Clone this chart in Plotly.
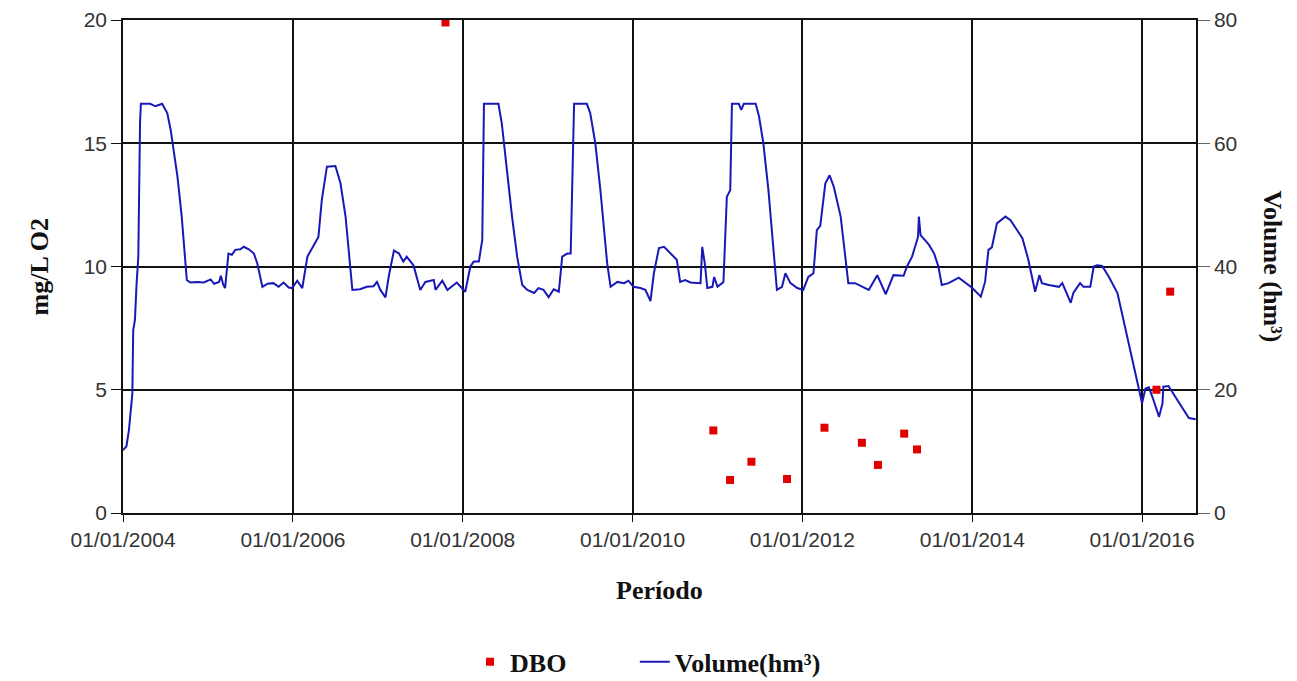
import datetime as dt
import plotly.graph_objects as go

# Reservoir volume (hm³), sampled along the record; time in decimal years
vol_t = [
    2004.00, 2004.04, 2004.07, 2004.11, 2004.12, 2004.14, 2004.16, 2004.18, 2004.20, 2004.21,
    2004.32, 2004.38, 2004.46, 2004.52, 2004.56, 2004.64, 2004.69, 2004.75, 2004.79, 2004.87,
    2004.95, 2005.03, 2005.07, 2005.13, 2005.15, 2005.18, 2005.20, 2005.24, 2005.28, 2005.32,
    2005.38, 2005.42, 2005.48, 2005.54, 2005.58, 2005.64, 2005.70, 2005.77, 2005.83, 2005.89,
    2005.95, 2005.99, 2006.05, 2006.11, 2006.17, 2006.24, 2006.30, 2006.34, 2006.40, 2006.50,
    2006.56, 2006.62, 2006.70, 2006.79, 2006.87, 2006.95, 2006.99, 2007.03, 2007.09, 2007.13,
    2007.19, 2007.25, 2007.30, 2007.34, 2007.42, 2007.50, 2007.56, 2007.66, 2007.68, 2007.76,
    2007.82, 2007.93, 2008.01, 2008.03, 2008.09, 2008.13, 2008.19, 2008.23, 2008.25, 2008.42,
    2008.46, 2008.50, 2008.58, 2008.64, 2008.70, 2008.76, 2008.84, 2008.89, 2008.95, 2009.01,
    2009.07, 2009.13, 2009.17, 2009.23, 2009.27, 2009.31, 2009.46, 2009.50, 2009.56, 2009.62,
    2009.70, 2009.74, 2009.82, 2009.90, 2009.95, 2010.01, 2010.09, 2010.15, 2010.21, 2010.25,
    2010.31, 2010.37, 2010.45, 2010.52, 2010.56, 2010.62, 2010.68, 2010.80, 2010.82, 2010.85,
    2010.88, 2010.94, 2010.96, 2011.00, 2011.07, 2011.11, 2011.15, 2011.17, 2011.25, 2011.28,
    2011.31, 2011.45, 2011.49, 2011.54, 2011.60, 2011.70, 2011.76, 2011.80, 2011.86, 2011.94,
    2012.01, 2012.07, 2012.13, 2012.17, 2012.21, 2012.27, 2012.32, 2012.37, 2012.45, 2012.54,
    2012.62, 2012.70, 2012.78, 2012.88, 2012.98, 2013.07, 2013.19, 2013.23, 2013.29, 2013.36,
    2013.37, 2013.39, 2013.49, 2013.55, 2013.60, 2013.64, 2013.72, 2013.84, 2013.92, 2014.00,
    2014.10, 2014.15, 2014.19, 2014.23, 2014.29, 2014.39, 2014.45, 2014.51, 2014.59, 2014.66,
    2014.74, 2014.79, 2014.82, 2014.90, 2015.02, 2015.06, 2015.16, 2015.19, 2015.27, 2015.31,
    2015.39, 2015.43, 2015.47, 2015.53, 2015.61, 2015.71, 2015.78, 2015.86, 2015.96, 2016.00,
    2016.04, 2016.08, 2016.12, 2016.20, 2016.24, 2016.25, 2016.31, 2016.39, 2016.47, 2016.55,
    2016.63,
]
vol_hm3 = [
    10.2, 10.8, 13.5, 19.4, 29.7, 31.3, 37.3, 41.6, 63.2, 66.4,
    66.4, 66.0, 66.4, 64.9, 62.2, 54.6, 48.1, 37.8, 37.4, 37.5,
    37.4, 37.9, 37.2, 37.5, 38.5, 37.0, 36.5, 42.1, 41.9, 42.7,
    42.8, 43.2, 42.8, 42.1, 40.5, 36.7, 37.2, 37.3, 36.7, 37.4,
    36.6, 36.5, 37.7, 36.5, 41.6, 43.2, 44.8, 50.8, 56.2, 56.3,
    53.5, 48.1, 36.2, 36.3, 36.7, 36.8, 37.5, 36.2, 35.0, 38.5,
    42.6, 42.1, 40.8, 41.6, 40.2, 36.2, 37.5, 37.8, 36.2, 37.7,
    36.2, 37.4, 36.2, 35.9, 40.0, 40.8, 40.8, 44.3, 66.4, 66.4,
    63.2, 57.8, 48.1, 41.6, 37.0, 36.2, 35.7, 36.5, 36.2, 35.0,
    36.3, 35.9, 41.6, 42.1, 42.1, 66.4, 66.4, 64.9, 60.0, 52.4,
    40.5, 36.7, 37.5, 37.3, 37.7, 36.7, 36.5, 36.2, 34.4, 38.9,
    43.0, 43.2, 42.1, 41.1, 37.5, 37.8, 37.4, 37.3, 43.2, 40.5,
    36.5, 36.7, 38.3, 36.7, 37.5, 51.3, 52.4, 66.4, 66.4, 65.4,
    66.4, 66.4, 64.3, 60.0, 52.4, 36.2, 36.7, 38.9, 37.3, 36.5,
    36.2, 38.3, 38.9, 45.9, 46.6, 53.5, 54.8, 52.9, 48.1, 37.3,
    37.3, 36.7, 36.2, 38.6, 35.5, 38.6, 38.5, 40.0, 41.6, 44.8,
    48.1, 45.1, 43.5, 42.1, 40.0, 37.0, 37.3, 38.2, 37.3, 36.5,
    35.1, 37.5, 42.7, 43.1, 47.0, 48.1, 47.5, 46.2, 44.6, 41.1,
    35.9, 38.6, 37.3, 37.0, 36.7, 37.3, 34.1, 35.7, 37.3, 36.7,
    36.7, 40.0, 40.2, 40.1, 38.3, 35.7, 31.3, 26.5, 20.5, 17.8,
    20.2, 20.4, 18.9, 15.6, 17.8, 20.5, 20.6, 18.9, 17.0, 15.4,
    15.2,
]

# DBO samples (mg/L O2)
dbo_dates = [
    "2007-10-19", "2010-12-14", "2011-02-24", "2011-05-27", "2011-10-27", "2012-04-05",
    "2012-09-13", "2012-11-21", "2013-03-14", "2013-05-08", "2016-03-03", "2016-05-01",
]
dbo_mg = [19.9, 3.35, 1.34, 2.08, 1.38, 3.46, 2.85, 1.95, 3.22, 2.58, 5.0, 8.98]

x_start, x_end = "2004-01-01", "2016-08-20"
x_tick_dates = ["2004-01-01", "2006-01-01", "2008-01-01", "2010-01-01",
                "2012-01-01", "2014-01-01", "2016-01-01"]
x_tick_text = ["01/01/2004", "01/01/2006", "01/01/2008", "01/01/2010",
               "01/01/2012", "01/01/2014", "01/01/2016"]


def decimal_year_to_date(t):
    year = int(t)
    start = dt.datetime(year, 1, 1)
    span = dt.datetime(year + 1, 1, 1) - start
    return start + (t - year) * span


vol_dates = [decimal_year_to_date(t) for t in vol_t]

tick_font = dict(family="Liberation Sans, Arial, sans-serif", size=21, color="#333333")
serif = "Liberation Serif, Times New Roman, serif"
title_font = dict(family=serif, size=26, color="#111111")
legend_font = dict(family=serif, size=26, color="#111111")

fig = go.Figure()

fig.add_trace(go.Scatter(
    x=dbo_dates, y=dbo_mg, mode="markers", name="<b>DBO</b>",
    marker=dict(symbol="square", size=8, color="#e00000"),
    yaxis="y", legend="legend", showlegend=True,
))
fig.add_trace(go.Scatter(
    x=vol_dates, y=vol_hm3, mode="lines", name="<b>Volume(hm³)</b>",
    line=dict(color="#1818b8", width=2),
    yaxis="y2", legend="legend2", showlegend=True,
))

fig.update_layout(
    width=1297, height=681, showlegend=True,
    margin=dict(l=123, r=101, t=20, b=168, autoexpand=False),
    paper_bgcolor="white", plot_bgcolor="white",
    xaxis=dict(
        range=[x_start, x_end], tickvals=x_tick_dates, ticktext=x_tick_text,
        showgrid=True, gridcolor="#111111", gridwidth=1.5,
        showline=True, linecolor="#111111", linewidth=1.5, mirror=True,
        ticks="outside", ticklen=7, tickcolor="#111111",
        tickfont=tick_font, zeroline=False, automargin=False,
    ),
    yaxis=dict(
        range=[0, 20], tickvals=[0, 5, 10, 15, 20],
        showgrid=True, gridcolor="#111111", gridwidth=1.5,
        showline=True, linecolor="#111111", linewidth=1.5, mirror=True,
        ticks="outside", ticklen=10, tickcolor="#111111",
        tickfont=tick_font, zeroline=False, automargin=False,
    ),
    yaxis2=dict(
        range=[0, 80], tickvals=[0, 20, 40, 60, 80],
        overlaying="y", side="right", showgrid=False,
        showline=True, linecolor="#111111", linewidth=1.5,
        ticks="outside", ticklen=12, tickcolor="#666666",
        tickfont=tick_font, zeroline=False, automargin=False,
    ),
    legend=dict(
        orientation="h", x=0.3234, xanchor="left", y=-0.302, yanchor="middle",
        font=legend_font, itemwidth=30, bgcolor="rgba(0,0,0,0)", visible=True,
    ),
    legend2=dict(
        orientation="h", x=0.477, xanchor="left", y=-0.302, yanchor="middle",
        font=legend_font, itemwidth=30, bgcolor="rgba(0,0,0,0)", visible=True,
    ),
    annotations=[
        dict(text="<b>Período</b>", xref="paper", yref="paper",
             x=0.5, y=0, xanchor="center", yanchor="middle", yshift=-77,
             showarrow=False, font=title_font),
        dict(text="<b>mg/L O2</b>", xref="paper", yref="paper",
             x=0, y=0.5, xanchor="center", yanchor="middle", xshift=-84,
             textangle=-90, showarrow=False, font=title_font),
        dict(text="<b>Volume (hm³)</b>", xref="paper", yref="paper",
             x=1, y=0.5, xanchor="center", yanchor="middle", xshift=76,
             textangle=90, showarrow=False, font=title_font),
    ],
)

fig.write_html("out.html")
